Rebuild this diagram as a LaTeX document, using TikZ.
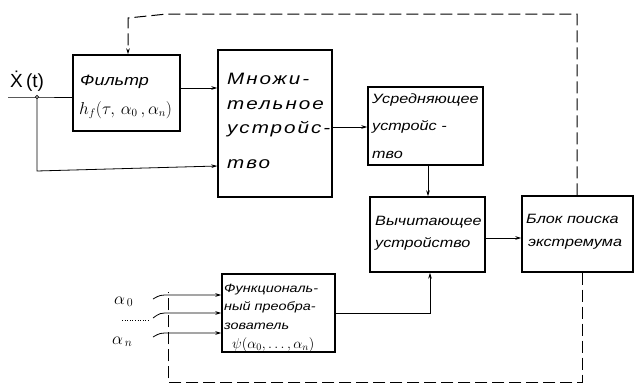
\documentclass[tikz,border=0pt]{standalone}
\usepackage{fontspec}
\setmainfont{Liberation Sans}
\newfontfamily\lbl[FakeStretch=1.2]{Liberation Sans}
\newfontfamily\lblwide[FakeStretch=1.25,LetterSpace=12]{Liberation Sans}
\usetikzlibrary{arrows.meta}
\begin{document}
\begin{tikzpicture}[x=1pt,y=-1pt,
  box/.style={draw, line width=1.4pt, inner sep=0pt, rectangle},
  conn/.style={line width=0.8pt},
  arr/.style={conn, -{Stealth[length=6pt,width=3.6pt]}},
  dsh/.style={line width=1pt, dash pattern=on 12pt off 5pt},
  txt/.style={anchor=base west, inner sep=0pt, font=\lbl\itshape\fontsize{13.5}{15}\selectfont},
  smalltxt/.style={anchor=base west, inner sep=0pt, font=\lbl\itshape\fontsize{12}{14}\selectfont},
  bigtxt/.style={anchor=base west, inner sep=0pt, font=\lblwide\itshape\fontsize{16.5}{18}\selectfont},
  lab/.style={anchor=base west, inner sep=0pt, font=\fontsize{15}{17}\selectfont}]
\useasboundingbox (0,0) rectangle (637,388);

% boxes
\node[box, minimum width=107pt, minimum height=76pt] (filt) at (126.5,93) {};
\node[box, minimum width=114pt, minimum height=147pt] (mult) at (275,123.5) {};
\node[box, minimum width=115pt, minimum height=78pt] (usr) at (425.5,126) {};
\node[box, minimum width=115pt, minimum height=75pt] (vych) at (427.5,234.5) {};
\node[box, minimum width=111pt, minimum height=76pt] (blok) at (577.5,234) {};
\node[box, minimum width=113pt, minimum height=78pt] (func) at (278.5,313) {};

% texts
\node[txt, font=\lbl\itshape\fontsize{15}{17}\selectfont] (filtA) at (80,85) {Фильтр};
\node[lab, font=\fontsize{16}{18}\selectfont] (filtB) at (79,114) {$h_f(\tau,\,\alpha_0\,,\alpha_n)$};

\node[bigtxt] (multA) at (227,84) {Множи-};
\node[bigtxt] (multB) at (227,109) {тельное};
\node[bigtxt] (multC) at (227,133) {устройс-};
\node[bigtxt] (multD) at (227,168) {тво};

\node[txt] (usrA) at (372,103) {Усредняющее};
\node[txt] (usrB) at (372,130) {устройс -};
\node[txt] (usrC) at (372,158) {тво};

\node[txt] (vychA) at (375,225) {Вычитающее};
\node[txt] (vychB) at (375,247) {устройство};

\node[txt] (blokA) at (526,223) {Блок поиска};
\node[txt] (blokB) at (528,246) {экстремума};

\node[smalltxt] (funcA) at (224,292) {Функциональ-};
\node[smalltxt] (funcB) at (224,310) {ный преобра-};
\node[smalltxt] (funcC) at (224,329) {зователь};
\node[lab, font=\fontsize{14}{16}\selectfont] (funcD) at (232,348) {$\psi(\alpha_0,\ldots,\alpha_n)$};

% labels
\node[lab, font=\fontsize{19}{21}\selectfont] (xlab) at (10,87) {\.{X}\,(t)};
\node[lab, font=\fontsize{17}{19}\selectfont] (a0lab) at (114,304) {$\alpha_{\,0}$};
\node[lab, font=\fontsize{17}{19}\selectfont] (anlab) at (112,344) {$\alpha_{\,n}$};

% input x(t)
\coordinate (xin) at (8,97);
\coordinate (jn) at (37,97);
\coordinate (jd) at (37,171);
\draw[conn] (xin) -- (jn) -- (jn -| filt.west);
\draw[arr] (jn) -- (jd) -- (mult.west |- 0,166);
\draw[conn, fill=white] (jn) circle (1.6pt);

% main connectors
\draw[arr] (filt.east |- 0,88) -- (mult.west |- 0,88);
\draw[arr] (mult.east |- 0,127) -- (usr.west |- 0,127);
\draw[arr] (usr.south -| 428,0) -- (vych.north -| 428,0);
\draw[arr] (vych.east |- 0,238) -- (blok.west |- 0,238);
\draw[arr] (func.east |- 0,313) -| (vych.south -| 430,0);

% alpha inputs
\coordinate (i0) at (153,299);
\coordinate (i1) at (153,318);
\coordinate (i2) at (153,337);
\draw[arr] (i0) .. controls (160,295) .. (170,295) -- (func.west |- 0,295);
\draw[arr] (i1) .. controls (160,313) .. (170,313) -- (func.west |- 0,313);
\draw[arr] (i2) .. controls (160,333) .. (170,333) -- (func.west |- 0,333);
\coordinate (d0) at (122,320);
\coordinate (d1) at (150,320);
\draw[line width=0.6pt, dotted] (d0) -- (d1);

% feedback dashed
\draw[dsh, -{Stealth[length=6pt,width=3.6pt]}] (blok.north -| 577,0) -- (577,14) -- (167,14) -- (128,18) -- (filt.north -| 128,0);
\coordinate (fbend) at (168,292);
\draw[dsh] (blok.south -| 582,0) -- (582,382) -- (168,382) -- (fbend);
\end{tikzpicture}
\end{document}
